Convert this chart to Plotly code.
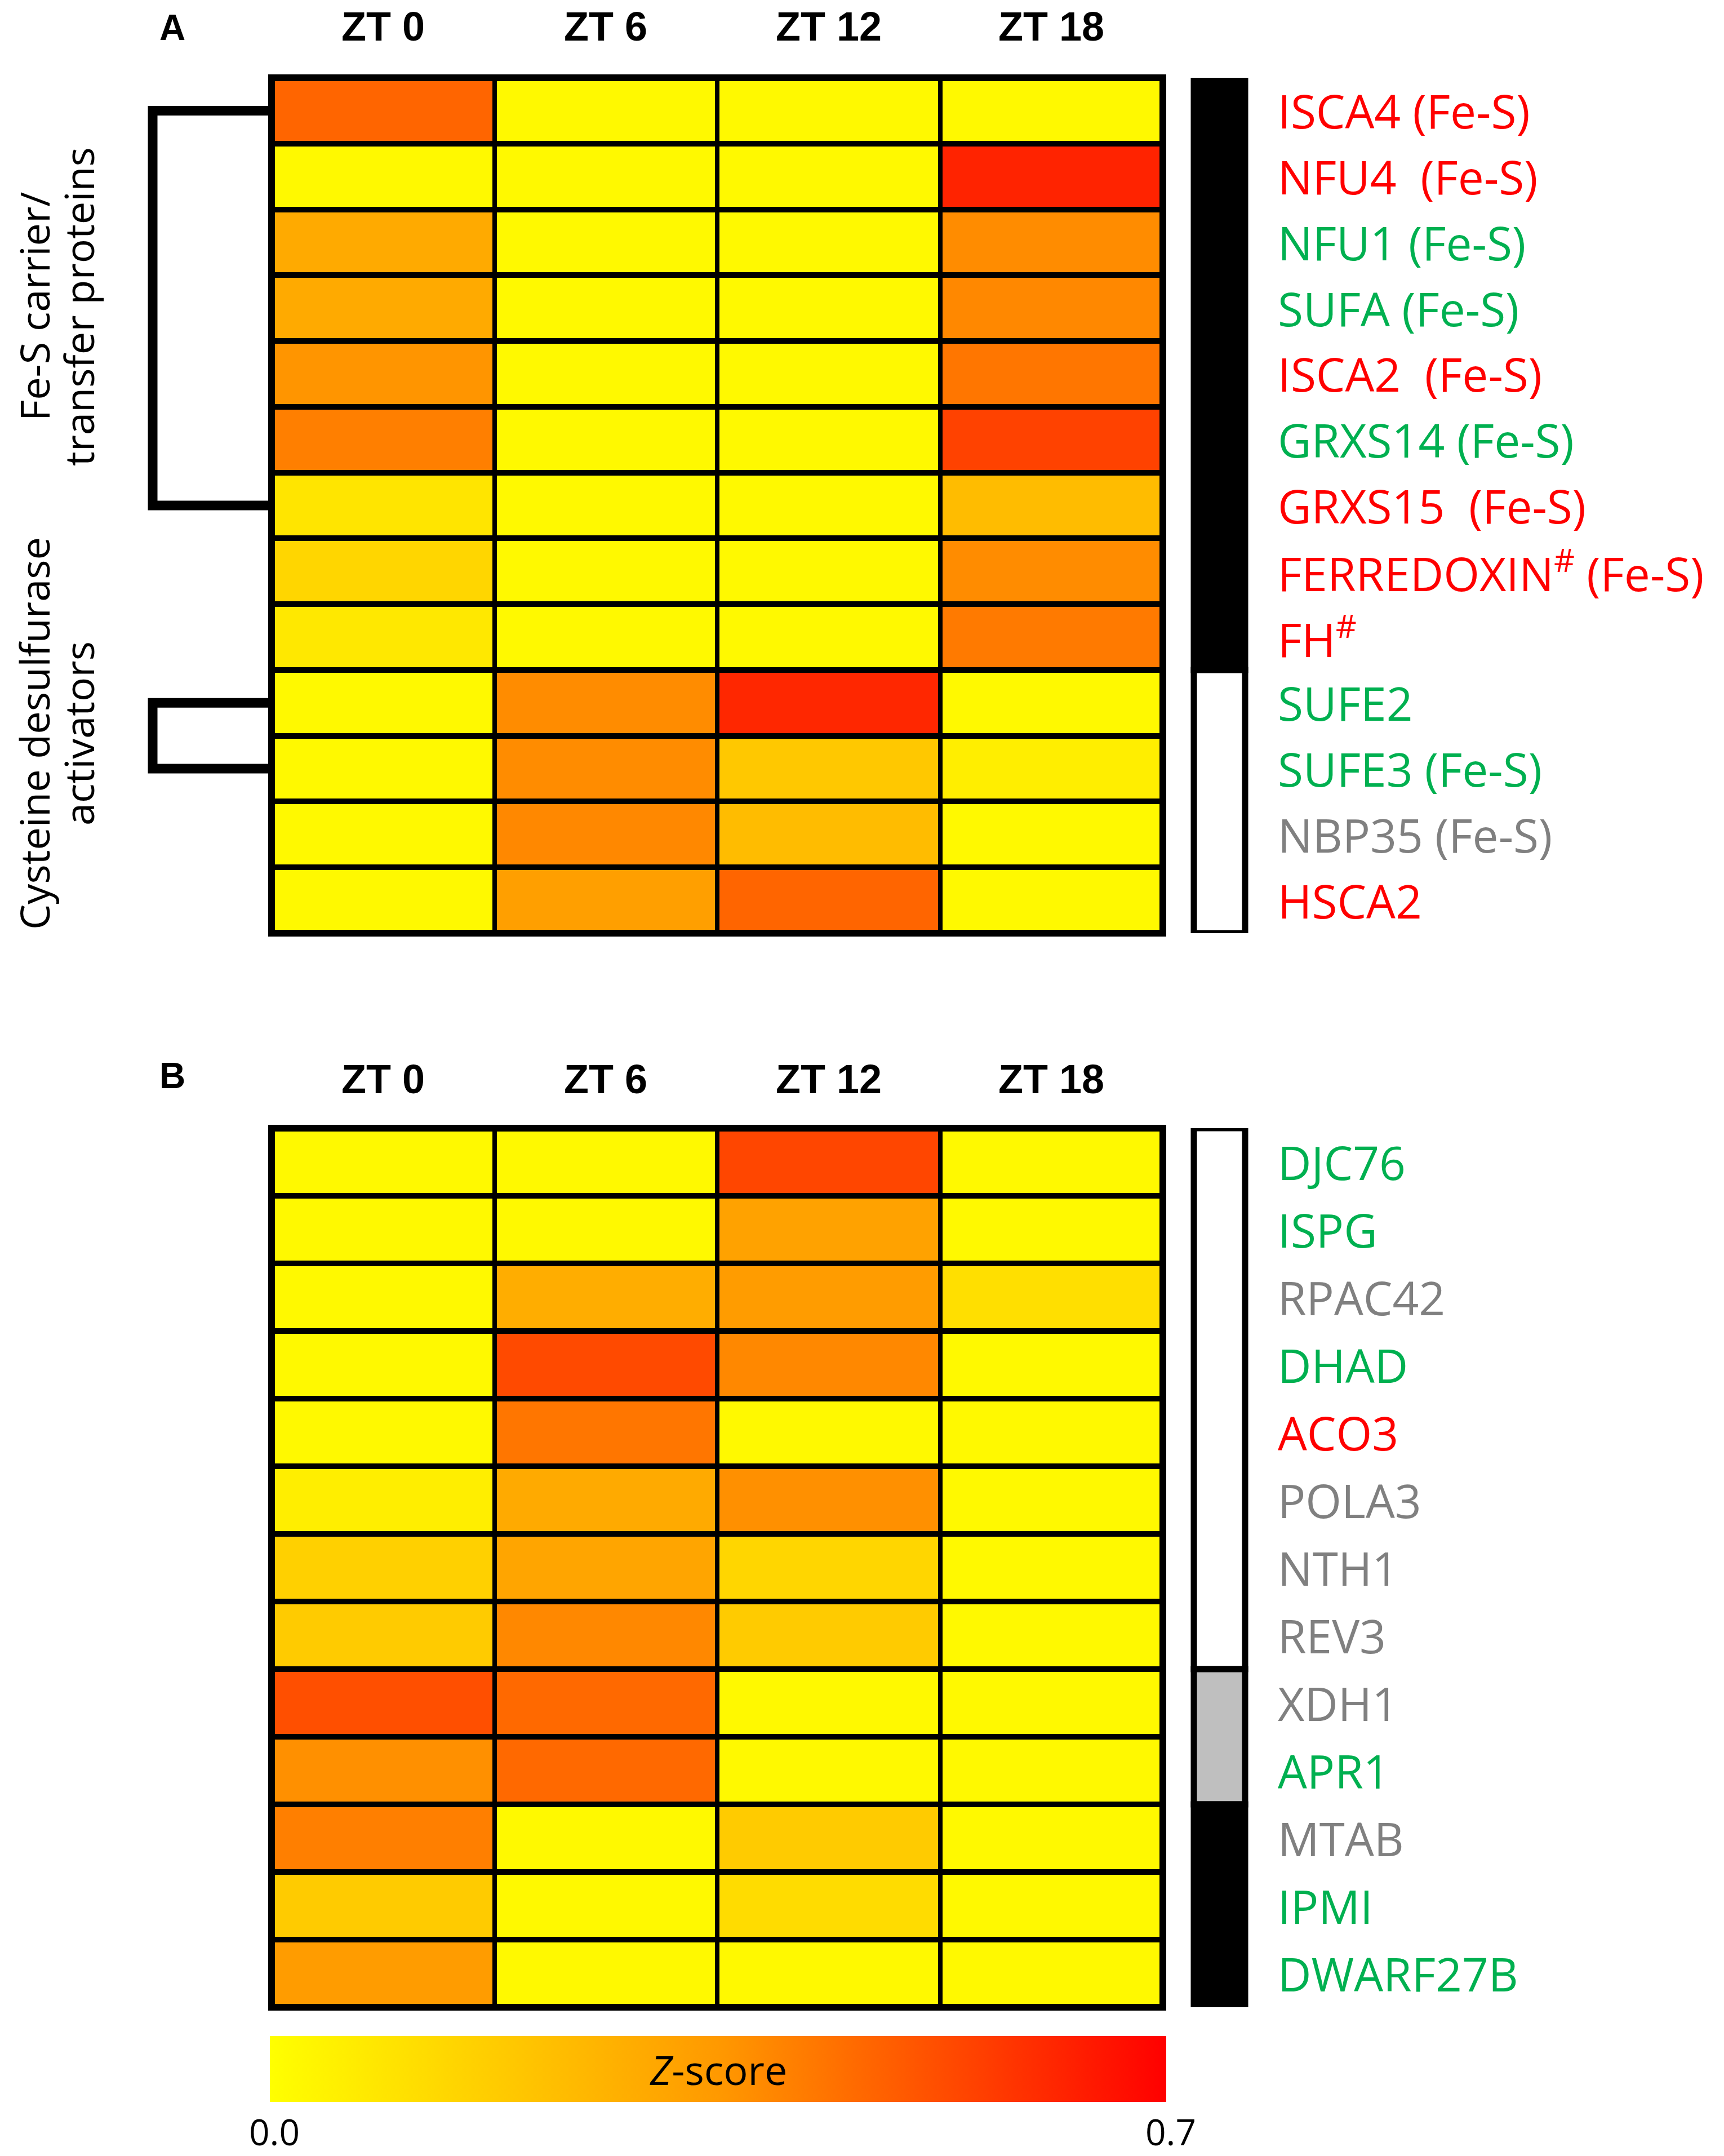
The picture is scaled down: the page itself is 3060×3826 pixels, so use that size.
import plotly.graph_objects as go

W, H = 3060, 3826

# ---------------- data ----------------
timepoints = ["ZT 0", "ZT 6", "ZT 12", "ZT 18"]

genes_a = ["ISCA4 (Fe-S)", "NFU4  (Fe-S)", "NFU1 (Fe-S)", "SUFA (Fe-S)", "ISCA2  (Fe-S)",
           "GRXS14 (Fe-S)", "GRXS15  (Fe-S)", "FERREDOXIN<sup>#</sup> (Fe-S)", "FH<sup>#</sup>",
           "SUFE2", "SUFE3 (Fe-S)", "NBP35 (Fe-S)", "HSCA2"]
label_class_a = ["red", "red", "green", "green", "red", "green", "red", "red", "red",
                 "green", "green", "gray", "red"]
a_zt0 = [0.47, 0.02, 0.29, 0.29, 0.36, 0.41, 0.09, 0.14, 0.08, 0.02, 0.02, 0.02, 0.02]
a_zt6 = [0.02, 0.02, 0.02, 0.02, 0.02, 0.02, 0.02, 0.02, 0.02, 0.38, 0.38, 0.39, 0.33]
a_zt12 = [0.02, 0.02, 0.02, 0.02, 0.02, 0.02, 0.02, 0.02, 0.02, 0.61, 0.19, 0.23, 0.47]
a_zt18 = [0.02, 0.62, 0.38, 0.39, 0.43, 0.55, 0.23, 0.38, 0.42, 0.02, 0.06, 0.02, 0.02]
cluster_a = ["black"] * 9 + ["white"] * 4

genes_b = ["DJC76", "ISPG", "RPAC42", "DHAD", "ACO3", "POLA3", "NTH1", "REV3", "XDH1",
           "APR1", "MTAB", "IPMI", "DWARF27B"]
label_class_b = ["green", "green", "gray", "green", "red", "gray", "gray", "gray", "gray",
                 "green", "gray", "green", "green"]
b_zt0 = [0.02, 0.02, 0.02, 0.02, 0.02, 0.06, 0.16, 0.18, 0.52, 0.37, 0.41, 0.18, 0.34]
b_zt6 = [0.02, 0.02, 0.28, 0.53, 0.43, 0.29, 0.31, 0.39, 0.46, 0.46, 0.02, 0.02, 0.02]
b_zt12 = [0.54, 0.32, 0.34, 0.39, 0.02, 0.37, 0.14, 0.18, 0.02, 0.02, 0.18, 0.12, 0.02]
b_zt18 = [0.02, 0.02, 0.11, 0.02, 0.02, 0.02, 0.02, 0.02, 0.02, 0.02, 0.02, 0.02, 0.02]
cluster_b = ["white"] * 8 + ["gray"] * 2 + ["black"] * 3

group_labels_a = [["Fe-S carrier/", "transfer proteins"], ["Cysteine desulfurase", "activators"]]
dendro_a = [(0, 6), (9, 10)]  # row pairs joined by brackets

zmin, zmax = 0.0, 0.7
cbar_ticks = [0.0, 0.7]
cbar_ticktext = ["0.0", "0.7"]

# ---------------- styles ----------------
label_colors = {"red": "#FF0000", "green": "#00B050", "gray": "#808080"}
side_colors = {"black": "#000000", "white": "#FFFFFF", "gray": "#BFBFBF"}
colorscale = [[0.0, "#FFFF00"], [0.5, "#FF9900"], [1.0, "#FF0000"]]
FONT = "Open Sans"
BOLD = "Liberation Sans"

DX, DY = -7, -6  # global nudge

def px(x):
    return (x + DX) / W

def py(y):
    return 1 - (y + DY) / H

x_dom = [px(481), px(2063)]
y_dom_a = [py(1654), py(136)]
y_dom_b = [py(3560), py(2000)]
cbar_left, cbar_right = 478, 2069

fig = go.Figure()

def transpose(cols):
    return [list(r) for r in zip(*cols)]

za = transpose([a_zt0, a_zt6, a_zt12, a_zt18])
zb = transpose([b_zt0, b_zt6, b_zt12, b_zt18])

fig.add_trace(go.Heatmap(z=za, x=timepoints, y=list(range(len(genes_a))),
                         coloraxis="coloraxis", xgap=8, ygap=10,
                         xaxis="x", yaxis="y", hoverinfo="skip"))
fig.add_trace(go.Heatmap(z=zb, x=timepoints, y=list(range(len(genes_b))),
                         coloraxis="coloraxis", xgap=8, ygap=10,
                         xaxis="x2", yaxis="y2", hoverinfo="skip"))

axis_common = dict(showgrid=False, zeroline=False, showticklabels=False, ticks="", showline=False)
fig.update_layout(
    width=W, height=H,
    margin=dict(l=0, r=0, t=0, b=0),
    paper_bgcolor="white",
    plot_bgcolor="black",
    showlegend=False,
    xaxis=dict(domain=x_dom, anchor="y", **axis_common),
    yaxis=dict(domain=y_dom_a, anchor="x", range=[len(genes_a) - 0.5, -0.5], **axis_common),
    xaxis2=dict(domain=x_dom, anchor="y2", **axis_common),
    yaxis2=dict(domain=y_dom_b, anchor="x2", range=[len(genes_b) - 0.5, -0.5], **axis_common),
    coloraxis=dict(
        cmin=zmin, cmax=zmax, colorscale=colorscale,
        colorbar=dict(
            orientation="h", x=px((cbar_left + cbar_right) / 2), xanchor="center",
            y=py(3611), yanchor="top",
            len=cbar_right - cbar_left, lenmode="pixels", thickness=117, thicknessmode="pixels",
            outlinewidth=0, xpad=0, ypad=0, ticks="", ticklen=0,
            tickvals=cbar_ticks, showticklabels=False,
        ),
    ),
)

shapes = []
annotations = []

for xr, yr, genes, classes, clusters, ztitle_y, letter, letter_y in [
    ("x", "y", genes_a, label_class_a, cluster_a, 45, "A", 47),
    ("x2", "y2", genes_b, label_class_b, cluster_b, 1913, "B", 1907),
]:
    # outer border of heatmap
    shapes.append(dict(type="rect", xref=xr + " domain", yref=yr + " domain",
                       x0=0, x1=1, y0=0, y1=1, line=dict(color="black", width=12),
                       fillcolor="rgba(0,0,0,0)", layer="above"))
    # column titles
    for t in timepoints:
        annotations.append(dict(x=t, xref=xr, y=py(ztitle_y), yref="paper", text="<b>" + t + "</b>",
                                showarrow=False, xanchor="center", yanchor="middle",
                                font=dict(family=BOLD, size=72, color="black")))
    annotations.append(dict(x=px(305), xref="paper", y=py(letter_y), yref="paper", text="<b>" + letter + "</b>",
                            showarrow=False, xanchor="center", yanchor="middle",
                            font=dict(family=BOLD, size=64, color="black")))
    # gene labels
    for i, (g, c) in enumerate(zip(genes, classes)):
        annotations.append(dict(x=px(2265), xref="paper", y=i, yref=yr, text=g,
                                showarrow=False, xanchor="left", yanchor="middle",
                                font=dict(family=FONT, size=82, color=label_colors[c])))
    # cluster side bar
    runs = []
    start = 0
    for i in range(1, len(clusters) + 1):
        if i == len(clusters) or clusters[i] != clusters[start]:
            runs.append((start, i - 1, clusters[start]))
            start = i
    for s, e, c in runs:
        shapes.append(dict(type="rect", xref="paper", yref=yr,
                           x0=px(2118), x1=px(2209), y0=s - 0.5, y1=e + 0.5,
                           fillcolor=side_colors[c], line=dict(color="black", width=11)))

# dendrogram brackets (panel A)
xl = px(484)
xv = px(270)
for r0, r1 in dendro_a:
    path = f"M {xl},{r0} L {xv},{r0} L {xv},{r1} L {xl},{r1}"
    shapes.append(dict(type="path", xref="paper", yref="y", path=path,
                       line=dict(color="black", width=17)))

# rotated group labels (one annotation per line)
for lines, yc in zip(group_labels_a, [542, 1300]):
    for txt, xc in zip(lines, [59, 138]):
        annotations.append(dict(x=px(xc), xref="paper", y=py(yc), yref="paper", text=txt,
                                textangle=-90, showarrow=False, xanchor="center", yanchor="middle",
                                borderpad=0,
                                font=dict(family=FONT, size=72, color="black")))

# colorbar title inside bar and end labels
annotations.append(dict(x=px((cbar_left + cbar_right) / 2), xref="paper", y=py(3670), yref="paper",
                        text="<i>Z</i>-score", showarrow=False, xanchor="center", yanchor="middle",
                        font=dict(family=FONT, size=72, color="black")))
for v, t in zip(cbar_ticks, cbar_ticktext):
    xv_ = cbar_left + (cbar_right - cbar_left) * (v - zmin) / (zmax - zmin)
    annotations.append(dict(x=px(xv_ + 8), xref="paper", y=1 - 3774 / H, yref="paper",
                            text=t, showarrow=False, xanchor="center", yanchor="middle",
                            borderpad=0,
                            font=dict(family=FONT, size=64, color="black")))

fig.update_layout(shapes=shapes, annotations=annotations)
fig.write_html("out.html")
